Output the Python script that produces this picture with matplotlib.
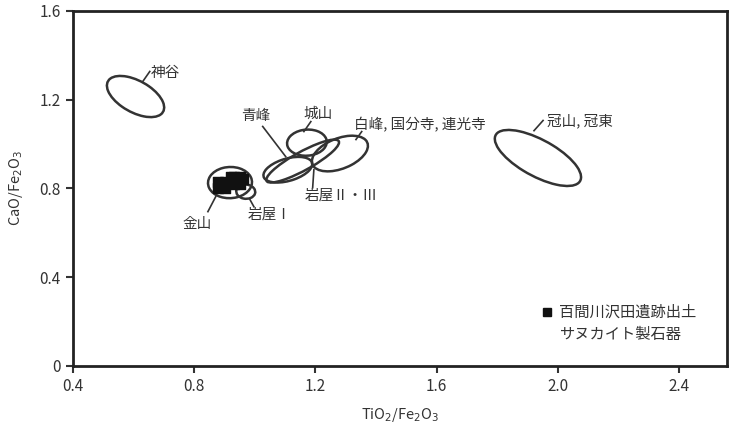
import matplotlib.pyplot as plt
from matplotlib.patches import Ellipse
from matplotlib.lines import Line2D

plt.rcParams['font.family'] = ['Noto Sans CJK JP', 'DejaVu Sans']

# source regions: (name, centre x, centre y, width, height, angle) in data units
regions = ["神谷", "金山", "岩屋Ⅰ", "青峰", "岩屋Ⅱ・Ⅲ", "城山", "白峰, 国分寺, 連光寺", "冠山, 冠東"]
cx = [0.606, 0.918, 0.970, 1.109, 1.158, 1.172, 1.281, 1.935]
cy = [1.214, 0.826, 0.785, 0.884, 0.923, 1.006, 0.957, 0.937]
widths = [0.232, 0.146, 0.062, 0.173, 0.299, 0.132, 0.209, 0.350]
heights = [0.128, 0.140, 0.065, 0.097, 0.076, 0.117, 0.128, 0.150]
angles = [-44, 20, 30, 26, 38, 15, 36, -40]

# label text position and leader line (start -> end) for each region
label_x = [0.656, 0.808, 0.977, 1.003, 1.165, 1.208, 1.327, 1.965]
label_y = [1.318, 0.641, 0.681, 1.124, 0.767, 1.137, 1.088, 1.106]
label_ha = ["left", "center", "left", "center", "left", "center", "left", "left"]
lead_x0 = [0.630, 0.871, 0.984, 1.102, 1.195, 1.162, 1.334, 1.922]
lead_y0 = [1.282, 0.763, 0.749, 0.943, 0.884, 1.056, 1.020, 1.060]
lead_x1 = [0.653, 0.845, 0.997, 1.026, 1.191, 1.185, 1.353, 1.952]
lead_y1 = [1.327, 0.695, 0.717, 1.079, 0.803, 1.101, 1.056, 1.106]

# 百間川沢田遺跡 samples
sq_x = [0.88, 0.90, 0.88, 0.90, 0.92, 0.93, 0.94, 0.95, 0.96, 0.95, 0.93]
sq_y = [0.80, 0.80, 0.83, 0.83, 0.85, 0.82, 0.84, 0.85, 0.84, 0.82, 0.85]

xticks = [0.4, 0.8, 1.2, 1.6, 2.0, 2.4]
yticks = [0, 0.4, 0.8, 1.2, 1.6]

ink = "#333333"

fig = plt.figure(figsize=(7.39, 4.36), dpi=100)
ax = fig.add_axes([0.099, 0.161, 0.885, 0.814])

for i in range(len(regions)):
    ax.add_patch(Ellipse((cx[i], cy[i]), widths[i], heights[i], angle=angles[i],
                         fill=False, edgecolor=ink, linewidth=1.8))
    ax.plot([lead_x0[i], lead_x1[i]], [lead_y0[i], lead_y1[i]], color=ink, linewidth=1.2)
    ax.text(label_x[i], label_y[i], regions[i], ha=label_ha[i], va="center",
            fontsize=10.5, color=ink)

sq = ax.scatter(sq_x, sq_y, marker="s", s=45, color="#111111", zorder=3)

h1 = Line2D([], [], marker="s", linestyle="none", color="#111111", markersize=6)
h2 = Line2D([], [], linestyle="none")
leg = ax.legend([h1, h2], ["百間川沢田遺跡出土", "サヌカイト製石器"], loc="center left",
                bbox_to_anchor=(0.718, 0.12), frameon=False, fontsize=11,
                handlelength=0.6, handletextpad=0.45, labelspacing=0.3,
                borderpad=0, borderaxespad=0)
for t in leg.get_texts():
    t.set_color(ink)

ax.set_xlim(0.4, 2.56)
ax.set_ylim(0, 1.6)
ax.set_xticks(xticks)
ax.set_xticklabels(["0.4", "0.8", "1.2", "1.6", "2.0", "2.4"])
ax.set_yticks(yticks)
ax.set_yticklabels(["0", "0.4", "0.8", "1.2", "1.6"])
ax.tick_params(direction="out", length=5, width=1.5, colors=ink, labelsize=11, pad=4)
for s in ax.spines.values():
    s.set_linewidth(2)
    s.set_color("#222222")

ax.set_xlabel("TiO$_2$/Fe$_2$O$_3$", fontsize=10.5, color=ink, labelpad=8)
ax.set_ylabel("CaO/Fe$_2$O$_3$", fontsize=10.5, color=ink, labelpad=10)

fig.savefig("out.png", dpi=100)
